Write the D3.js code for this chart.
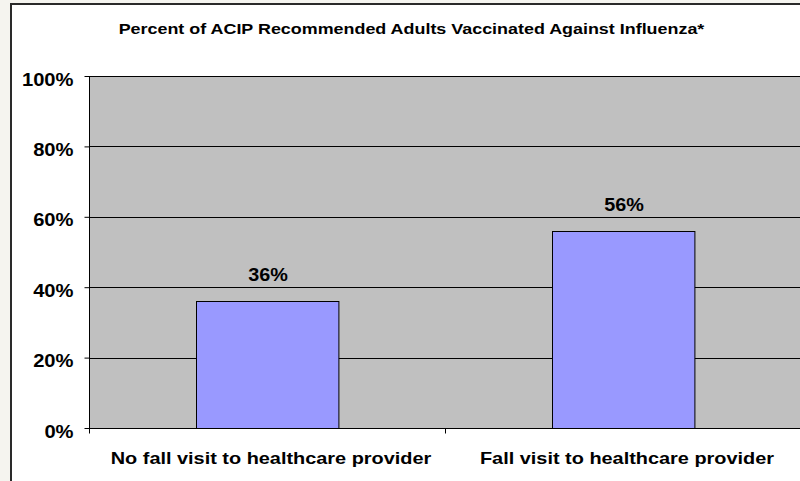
<!DOCTYPE html>
<html>
<head>
<meta charset="utf-8">
<script src="https://cdn.jsdelivr.net/npm/d3@7"></script>
<style>
  body { margin: 0; background: #f5f4ef; }
  text { font-family: "Liberation Sans", Arial, sans-serif; font-weight: bold; fill: #000; }
</style>
</head>
<body>
<script>
var svg_width = 800;
var svg_height = 481;

// data
var categories = ["No fall visit to healthcare provider", "Fall visit to healthcare provider"];
var values = [36, 56];
var yTicks = [0, 20, 40, 60, 80, 100];
var title = "Percent of ACIP Recommended Adults Vaccinated Against Influenza*";

var margin = {left: 89, top: 76, right: -1, bottom: 53};

var svg = d3.select("body").append("svg")
    .attr("width", svg_width)
    .attr("height", svg_height)
    .style("display", "block");

// old GDI text was wider than our fonts, so stretch it a bit
function widen(sel, k) {
    sel.each(function() {
        var len = this.getComputedTextLength();
        d3.select(this).attr("textLength", len * k)
            .attr("lengthAdjust", "spacingAndGlyphs");
    });
}

// chart frame
svg.append("rect")
    .attr("x", 11).attr("y", 4)
    .attr("width", 800).attr("height", 490)
    .attr("fill", "#fff")
    .attr("stroke", "#2a2a2a").attr("stroke-width", 2);

var x = d3.scaleBand()
    .domain(categories)
    .range([margin.left, svg_width - margin.right])
    .paddingInner(0.6).paddingOuter(0.3);

var y = d3.scaleLinear()
    .domain([0, 100])
    .range([svg_height - margin.bottom, margin.top]);

// plot area
svg.append("rect")
    .attr("x", margin.left).attr("y", y(100))
    .attr("width", svg_width - margin.right - margin.left)
    .attr("height", y(0) - y(100))
    .attr("fill", "#c0c0c0");

// gridlines
svg.append("g")
    .selectAll("line")
    .data(yTicks.slice(1))
    .enter().append("line")
    .attr("x1", margin.left).attr("x2", svg_width)
    .attr("y1", d => Math.round(y(d)) + 0.5)
    .attr("y2", d => Math.round(y(d)) + 0.5)
    .attr("stroke", "#000").attr("stroke-width", 1);

// bars
svg.append("g")
    .selectAll("rect")
    .data(values)
    .enter().append("rect")
    .attr("x", (d, i) => Math.round(x(categories[i])) + 0.5)
    .attr("y", d => Math.round(y(d)) + 0.5)
    .attr("width", x.bandwidth())
    .attr("height", d => y(0) - Math.round(y(d)))
    .attr("fill", "#9999ff")
    .attr("stroke", "#000").attr("stroke-width", 1);

// value labels
var valLabels = svg.append("g")
    .selectAll("text")
    .data(values)
    .enter().append("text")
    .attr("x", (d, i) => x(categories[i]) + x.bandwidth() / 2 + 1)
    .attr("y", d => y(d) - 20)
    .attr("text-anchor", "middle")
    .style("font-size", "18px")
    .text(d => d + "%");
widen(valLabels, 1.1);

// y axis
var yAxis = svg.append("g")
    .attr("transform", "translate(" + (margin.left + 0.5) + ",0)")
    .call(d3.axisLeft(y).tickValues(yTicks).tickSize(5).tickPadding(11)
        .tickFormat(d => d + "%"));
yAxis.select(".domain").attr("stroke", "#000").attr("d", "M0," + y(100) + "V" + (y(0) + 0.5));
yAxis.selectAll("line").attr("stroke", "#000");
var yLabels = yAxis.selectAll("text")
    .attr("dy", null).attr("y", 9)
    .style("font-size", "18px")
    .style("font-family", "'Liberation Sans', Arial, sans-serif").style("font-weight", "bold");
widen(yLabels, 1.12);

// x axis
var bandStep = (svg_width - margin.right - margin.left) / categories.length;
var xAxis = svg.append("g")
    .attr("transform", "translate(0," + (Math.round(y(0)) + 0.5) + ")");
xAxis.append("line")
    .attr("x1", margin.left).attr("x2", svg_width)
    .attr("stroke", "#000");
xAxis.selectAll(".tick")
    .data(d3.range(categories.length + 1))
    .enter().append("line")
    .attr("x1", d => Math.round(margin.left + d * bandStep) + 0.5)
    .attr("x2", d => Math.round(margin.left + d * bandStep) + 0.5)
    .attr("y1", 0).attr("y2", 5)
    .attr("stroke", "#000");
var xLabels = xAxis.selectAll("text")
    .data(categories)
    .enter().append("text")
    .attr("x", d => x(d) + x.bandwidth() / 2 + 4)
    .attr("y", 35)
    .attr("text-anchor", "middle")
    .style("font-size", "17px")
    .text(d => d);
widen(xLabels, 1.17);

// title
var titleText = svg.append("text")
    .attr("x", 411.5)
    .attr("y", 34)
    .attr("text-anchor", "middle")
    .style("font-size", "14.8px")
    .text(title);
widen(titleText, 1.21);
</script>
</body>
</html>
